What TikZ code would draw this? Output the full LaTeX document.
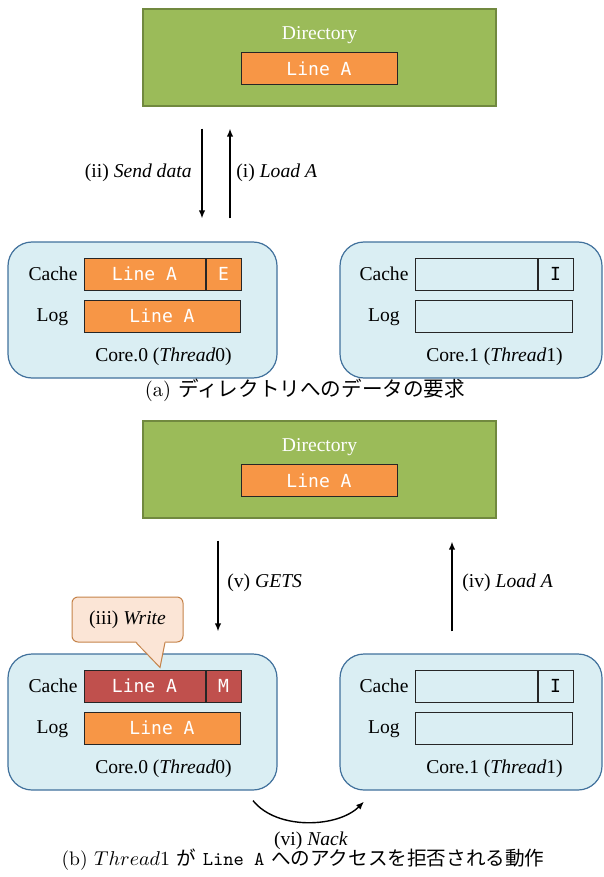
\documentclass[tikz,border=0pt]{standalone}
\usepackage{fontspec}
\newfontfamily\figfont{Liberation Serif}
\newfontfamily\cellfont{DejaVu Sans Mono}
\newfontfamily\jpfont{Noto Sans CJK JP}
\usepackage{tikz}
\usetikzlibrary{arrows.meta,calc,positioning}

\definecolor{dirgreen}{HTML}{9BBB59}
\definecolor{dirgreenline}{HTML}{71893F}
\definecolor{lineorange}{HTML}{F79646}
\definecolor{linered}{HTML}{C0504D}
\definecolor{corefill}{HTML}{DAEEF3}
\definecolor{coreline}{HTML}{41719C}
\definecolor{notefill}{HTML}{FBE5D6}
\definecolor{noteline}{HTML}{C5834A}

\begin{document}
\begin{tikzpicture}[
  x=0.5pt, y=-0.5pt,
  >={Latex[length=4pt,width=3.2pt]},
  directory/.style={
    draw=dirgreenline,
    fill=dirgreen,
    line width=0.6pt,
    minimum width=176.5pt,
    minimum height=48.5pt,
    inner sep=0pt
  },
  core/.style={
    draw=coreline,
    fill=corefill,
    line width=0.6pt,
    rounded corners=12pt,
    minimum height=68pt,
    inner sep=0pt
  },
  cell/.style={
    draw=black!85,
    line width=0.5pt,
    minimum height=16pt,
    inner sep=0pt,
    font=\cellfont\fontsize{9}{10}\selectfont,
    text=white
  },
  linecell/.style={cell, minimum width=60.5pt},
  statecell/.style={cell, minimum width=17.5pt},
  logcell/.style={cell, minimum width=78pt},
  lbl/.style={font=\figfont\fontsize{9.8}{11}\selectfont, inner sep=0pt},
  note/.style={
    lbl,
    draw=noteline,
    fill=notefill,
    line width=0.5pt,
    rounded corners=3pt,
    minimum width=55.5pt,
    minimum height=22.5pt
  },
  msg/.style={->, line width=0.7pt, draw=black},
  subcap/.style={font=\fontsize{10.3}{12}\selectfont, inner sep=0pt}
]
\useasboundingbox (0,0) rectangle (604,877);

% ---- (a) request to the directory ----
\node[directory] (dirA) at (319.5,57.5) {};
\node[lbl, text=white] (dirAname) at (319.5,35) {Directory};
\node[logcell, fill=lineorange] (dirAline) at (319,68.5) {Line A};

\node[core, minimum width=134.5pt] (coreA0) at (142.5,310) {};
\node[linecell, fill=lineorange] (cacheA0) at (144.5,274) {Line A};
\node[statecell, fill=lineorange, right=0pt of cacheA0] (stateA0) {E};
\node[logcell, fill=lineorange] (logA0) at (162,316) {Line A};
\node[lbl] at (53,274) {Cache};
\node[lbl] at (52.5,317) {Log};
\node[lbl] (nameA0) at (163.5,357) {Core.0 (\textit{Thread}0)};

\node[core, minimum width=131pt] (coreA1) at (471,310) {};
\node[linecell, minimum width=61pt] (cacheA1) at (476,274) {};
\node[statecell, text=black, right=0pt of cacheA1] (stateA1) {I};
\node[logcell, minimum width=78.5pt] (logA1) at (493.5,316) {};
\node[lbl] at (384,274) {Cache};
\node[lbl] at (384,317) {Log};
\node[lbl] (nameA1) at (494.5,357) {Core.1 (\textit{Thread}1)};

\draw[msg] ($(dirA.south)+(-117.5,22)$) -- ($(coreA0.north)+(59.5,-23)$);
\draw[msg] ($(coreA0.north)+(87.5,-23)$) -- ($(dirA.south)+(-89.5,22)$);
\node[lbl, anchor=east] (sendA) at (192,173) {(ii) \textit{Send data}};
\node[lbl, anchor=west] (loadA) at (236,173) {(i) \textit{Load A}};

\node[subcap] (capA) at (305,390) {(a) {\jpfont ディレクトリへのデータの要求}};

% ---- (b) Thread1 is refused ----
\node[directory] (dirB) at (319.5,469.5) {};
\node[lbl, text=white] (dirBname) at (319.5,447) {Directory};
\node[logcell, fill=lineorange] (dirBline) at (319,480.5) {Line A};

\node[core, minimum width=134.5pt] (coreB0) at (142.5,722) {};
\node[linecell, fill=linered] (cacheB0) at (144.5,686) {Line A};
\node[statecell, fill=linered, right=0pt of cacheB0] (stateB0) {M};
\node[logcell, fill=lineorange] (logB0) at (162,728) {Line A};
\node[lbl] at (53,686) {Cache};
\node[lbl] at (52.5,729) {Log};
\node[lbl] (nameB0) at (163.5,769) {Core.0 (\textit{Thread}0)};

\node[core, minimum width=131pt] (coreB1) at (471,722) {};
\node[linecell, minimum width=61pt] (cacheB1) at (476,686) {};
\node[statecell, text=black, right=0pt of cacheB1] (stateB1) {I};
\node[logcell, minimum width=78.5pt] (logB1) at (493.5,728) {};
\node[lbl] at (384,686) {Cache};
\node[lbl] at (384,729) {Log};
\node[lbl] (nameB1) at (494.5,769) {Core.1 (\textit{Thread}1)};

% speech bubble over the modified line
\node[note] (write) at (127.5,619.5) {(iii) \textit{Write}};
\fill[notefill] ($(write.south)+(8.5,-1.5)$) -- ($(write.south)+(32.5,25)$)
  -- ($(write.south)+(37.5,-1.5)$) -- cycle;
\draw[noteline, line width=0.5pt] ($(write.south)+(8.5,0)$)
  -- ($(write.south)+(32.5,25)$) -- ($(write.south)+(37.5,0)$);

\draw[msg] ($(dirB.south)+(-101.5,22)$) -- ($(coreB0.north)+(75.5,-22)$);
\draw[msg] ($(coreB1.north)+(-19,-22)$) -- ($(dirB.south)+(132.5,23)$);
\node[lbl, anchor=west] (gets) at (227,583) {(v) \textit{GETS}};
\node[lbl, anchor=west] (loadB) at (462,583) {(iv) \textit{Load A}};

\draw[msg] ($(coreB0.south)+(110.5,10)$) .. controls +(24,30) and +(-26,26) ..
  ($(coreB1.south)+(-107,11)$);
\node[lbl] (nack) at (311,841) {(vi) \textit{Nack}};

\node[subcap, font=\fontsize{9.8}{12}\selectfont] (capB) at (303,860)
  {(b) $Thread1$ {\jpfont が} \texttt{Line A} {\jpfont へのアクセスを拒否される動作}};

\end{tikzpicture}
\end{document}
